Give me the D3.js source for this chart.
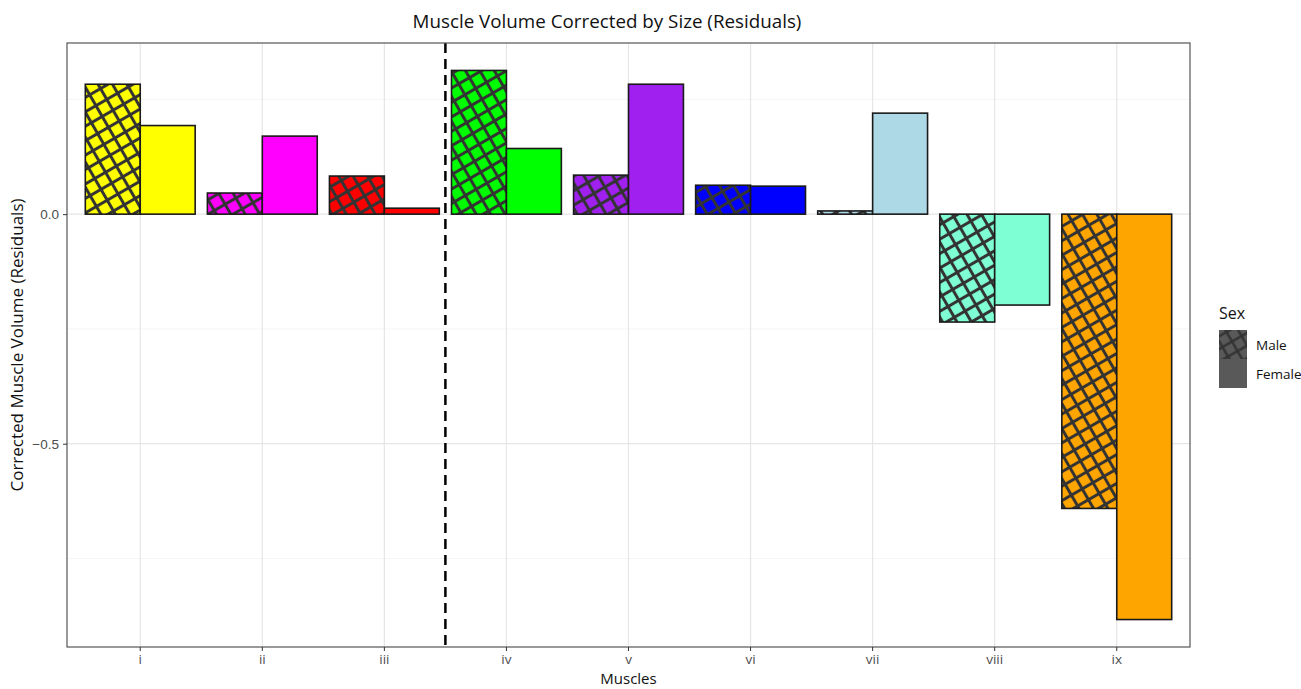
<!DOCTYPE html>
<html>
<head>
<meta charset="utf-8">
<script src="https://cdn.jsdelivr.net/npm/d3@7"></script>
<style>
  body { margin: 0; background: #fff; }
  svg { font-family: "Open Sans", "DejaVu Sans", sans-serif; }
</style>
</head>
<body>
<div id="chart"></div>
<script>
const muscles = ['i', 'ii', 'iii', 'iv', 'v', 'vi', 'vii', 'viii', 'ix']
const sexes = ['Male', 'Female']
const maleValues = [0.283, 0.046, 0.083, 0.313, 0.085, 0.063, 0.007, -0.235, -0.641]
const femaleValues = [0.193, 0.170, 0.013, 0.143, 0.283, 0.061, 0.220, -0.198, -0.883]
const muscleColors = ['#FFFF00', '#FF00FF', '#FF0000', '#00FF00', '#A020F0', '#0000FF', '#ADD8E6', '#7FFFD4', '#FFA500']
const yTicks = [0, -0.5]
const yMinor = [0.25, -0.25, -0.75]
const dividerAfter = 'iii'

const width = 1301, height = 689
const margin = { top: 43, right: 111, bottom: 42, left: 67 }
const pw = width - margin.left - margin.right
const ph = height - margin.top - margin.bottom

const data = []
muscles.forEach((m, i) => {
  data.push({ muscle: m, sex: 'Male', value: maleValues[i], color: muscleColors[i] })
  data.push({ muscle: m, sex: 'Female', value: femaleValues[i], color: muscleColors[i] })
})

const svg = d3.select('#chart').append('svg')
  .attr('width', width)
  .attr('height', height)

// crosshatch pattern for the Male bars
const defs = svg.append('defs')
function hatch(id, size, sw) {
  let pat = defs.append('pattern')
    .attr('id', id)
    .attr('patternUnits', 'userSpaceOnUse')
    .attr('width', size).attr('height', size)
    .attr('patternTransform', 'rotate(-30)')
  pat.append('line').attr('x1', size / 2).attr('y1', 0).attr('x2', size / 2).attr('y2', size)
    .attr('stroke', '#333').attr('stroke-width', sw)
  pat.append('line').attr('x1', 0).attr('y1', size / 2).attr('x2', size).attr('y2', size / 2)
    .attr('stroke', '#333').attr('stroke-width', sw)
}
hatch('hatch', 12.5, 3)
hatch('hatchKey', 11, 2.5)

// ggplot discrete expansion: 0.6 units each side
const step = pw / (muscles.length - 1 + 1.2)
const xc = m => step * 0.6 + muscles.indexOf(m) * step
const xs = d3.scaleBand().domain(sexes).range([-0.45 * step, 0.45 * step])

const lo = d3.min(data, d => d.value), hi = d3.max(data, d => d.value)
const pad = (hi - lo) * 0.05
const y = d3.scaleLinear().domain([lo - pad, hi + pad]).range([ph, 0])

const g = svg.append('g').attr('transform', `translate(${margin.left},${margin.top})`)

// grid
g.selectAll('.minor').data(yMinor).enter().append('line')
  .attr('x1', 0).attr('x2', pw)
  .attr('y1', d => y(d)).attr('y2', d => y(d))
  .attr('stroke', '#f2f2f2').attr('stroke-width', 0.8)
g.selectAll('.major').data(yTicks).enter().append('line')
  .attr('x1', 0).attr('x2', pw)
  .attr('y1', d => y(d)).attr('y2', d => y(d))
  .attr('stroke', '#e6e6e6').attr('stroke-width', 1.2)
g.selectAll('.vgrid').data(muscles).enter().append('line')
  .attr('x1', d => xc(d)).attr('x2', d => xc(d))
  .attr('y1', 0).attr('y2', ph)
  .attr('stroke', '#e6e6e6').attr('stroke-width', 1.2)

// bars
const bars = g.selectAll('.bar').data(data).enter().append('g')
const place = sel => sel
  .attr('x', d => xc(d.muscle) + xs(d.sex))
  .attr('width', xs.bandwidth())
  .attr('y', d => y(Math.max(0, d.value)))
  .attr('height', d => Math.abs(y(d.value) - y(0)))
bars.append('rect').call(place).attr('fill', d => d.color)
bars.filter(d => d.sex === 'Male').append('rect').call(place).attr('fill', 'url(#hatch)')
bars.append('rect').call(place)
  .attr('fill', 'none')
  .attr('stroke', '#1a1a1a').attr('stroke-width', 1.6)

// divider
const dx = xc(dividerAfter) + step / 2
g.append('line')
  .attr('x1', dx).attr('x2', dx).attr('y1', 0).attr('y2', ph)
  .attr('stroke', '#000').attr('stroke-width', 2.5)
  .attr('stroke-dasharray', '10,6')

// panel border
g.append('rect').attr('width', pw).attr('height', ph)
  .attr('fill', 'none').attr('stroke', '#555').attr('stroke-width', 1.2)

// axes
const yAxis = g.append('g')
  .call(d3.axisLeft(y).tickValues(yTicks).tickSize(4).tickPadding(4)
    .tickFormat(d => d3.format('.1f')(d).replace('-', '\u2212')))
yAxis.select('.domain').remove()
yAxis.selectAll('line').attr('stroke', '#333')
yAxis.selectAll('text').attr('fill', '#4d4d4d').style('font-size', '13.5px')

const xAxis = g.append('g').attr('transform', `translate(0,${ph})`)
xAxis.selectAll('.tick').data(muscles).enter().append('g')
  .attr('transform', d => `translate(${xc(d)},0)`)
  .each(function (d) {
    d3.select(this).append('line').attr('y2', 4).attr('stroke', '#333')
    d3.select(this).append('text').attr('y', 17).attr('text-anchor', 'middle')
      .attr('fill', '#4d4d4d').style('font-size', '13.5px').text(d)
  })

// titles
svg.append('text').attr('x', 607).attr('y', 28)
  .attr('text-anchor', 'middle').style('font-size', '18.8px').attr('fill', '#111')
  .text('Muscle Volume Corrected by Size (Residuals)')
svg.append('text').attr('x', margin.left + pw / 2).attr('y', 684)
  .attr('text-anchor', 'middle').style('font-size', '15px').attr('fill', '#111')
  .text('Muscles')
svg.append('text')
  .attr('transform', `translate(23,${margin.top + ph / 2}) rotate(-90)`)
  .attr('text-anchor', 'middle').style('font-size', '17px').attr('fill', '#111')
  .text('Corrected Muscle Volume (Residuals)')

// legend
const lg = svg.append('g').attr('transform', 'translate(1219,300)')
lg.append('text').attr('x', 0).attr('y', 19).style('font-size', '16px').attr('fill', '#111').text('Sex')
sexes.forEach((s, i) => {
  const k = lg.append('g').attr('transform', `translate(0,${30 + i * 29})`)
  k.append('rect').attr('width', 28).attr('height', 29).attr('fill', '#595959')
  if (s === 'Male') k.append('rect').attr('width', 28).attr('height', 29).attr('fill', 'url(#hatchKey)')
  k.append('text').attr('x', 37).attr('y', 20).style('font-size', '13.5px').attr('fill', '#111').text(s)
})
</script>
</body>
</html>
